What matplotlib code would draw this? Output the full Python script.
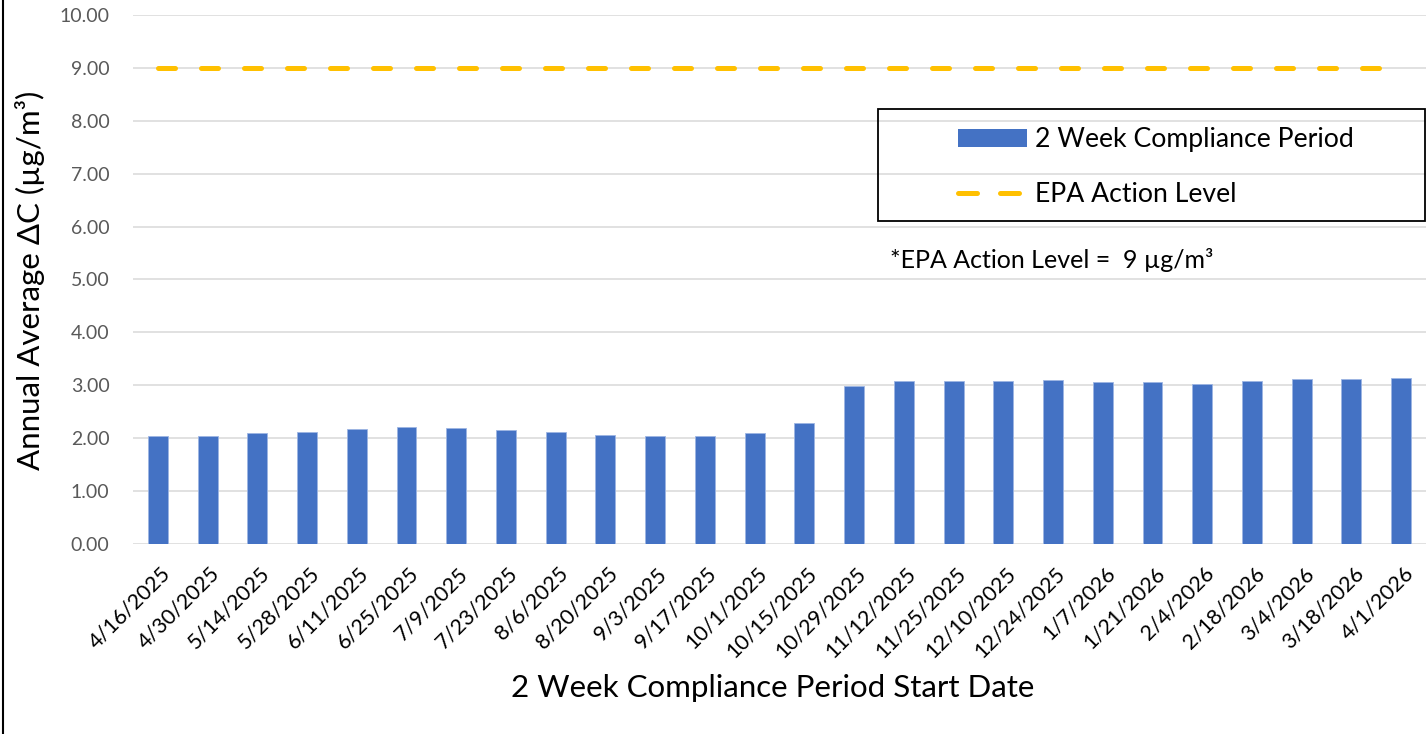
import matplotlib.pyplot as plt
import matplotlib.transforms as mtransforms
from matplotlib.patches import Patch, Rectangle
from matplotlib.lines import Line2D

# data
dates = ['4/16/2025', '4/30/2025', '5/14/2025', '5/28/2025', '6/11/2025', '6/25/2025',
         '7/9/2025', '7/23/2025', '8/6/2025', '8/20/2025', '9/3/2025', '9/17/2025',
         '10/1/2025', '10/15/2025', '10/29/2025', '11/12/2025', '11/25/2025', '12/10/2025',
         '12/24/2025', '1/7/2026', '1/21/2026', '2/4/2026', '2/18/2026', '3/4/2026',
         '3/18/2026', '4/1/2026']
delta_c = [2.05, 2.05, 2.10, 2.12, 2.17, 2.21, 2.19, 2.15, 2.11, 2.06, 2.04, 2.04, 2.09,
           2.29, 2.99, 3.09, 3.08, 3.09, 3.10, 3.06, 3.06, 3.02, 3.09, 3.11, 3.12, 3.13]
action_level = 9.0
y_ticks = [0, 1, 2, 3, 4, 5, 6, 7, 8, 9, 10]

plt.rcParams['font.family'] = ['Lato', 'DejaVu Sans']

W, H = 1427, 734
fig = plt.figure(figsize=(W / 100, H / 100), dpi=100)
ax = fig.add_axes([133 / W, 1 - 544 / H, 1293 / W, 529 / H])

x = list(range(len(dates)))
ax.bar(x, delta_c, width=0.4, color='#4472C4', edgecolor='#9DB5E3', linewidth=0.6, zorder=3)
ax.plot(x, [action_level] * len(dates), color='#FFC000', lw=3.6, dashes=(3.4, 5.2),
        dash_capstyle='round', zorder=4)

ax.set_xlim(-0.5, len(dates) - 0.5)
ax.set_ylim(0, 10)
ax.set_yticks(y_ticks, [f'{v:.2f}' for v in y_ticks])
ax.yaxis.grid(True, color='#D9D9D9', lw=1.1, zorder=0)
ax.tick_params(axis='y', length=0, pad=17, labelsize=14, labelcolor='#595959')
ax.set_xticks(x, dates, rotation=45, ha='right', rotation_mode='anchor')
ax.tick_params(axis='x', length=0, pad=14, labelsize=15.5, labelcolor='black')
shift = mtransforms.ScaledTranslation(2 / 100, 0, fig.dpi_scale_trans)
for lab in ax.get_xticklabels():
    lab.set_transform(lab.get_transform() + shift)
for s in ax.spines.values():
    s.set_visible(False)

fig.text(30 / W, 1 - 280 / H, 'Annual Average ΔC (µg/m³)', rotation=90,
         ha='center', va='center', fontsize=22.5)
fig.text(773 / W, 1 - 688 / H, '2 Week Compliance Period Start Date',
         ha='center', va='center', fontsize=22.5)

# legend box and entries
fig.add_artist(Rectangle((878 / W, 1 - 221 / H), 547 / W, 112 / H, transform=fig.transFigure,
                         fill=False, edgecolor='black', lw=1.3))
handles = [Patch(facecolor='#4472C4', edgecolor='none'),
           Line2D([0], [0], color='#FFC000', lw=3.6, dashes=(3.8, 4.6), dash_capstyle='round')]
fig.legend(handles, ['2 Week Compliance Period', 'EPA Action Level'], loc='upper left',
           bbox_to_anchor=(958 / W, 1 - 127 / H), frameon=False, fontsize=19.2,
           borderpad=0, borderaxespad=0, handlelength=2.6, handleheight=0.65,
           handletextpad=0.28, labelspacing=1.12)
fig.text(890 / W, 1 - 260 / H, '*EPA Action Level =  9 µg/m³', ha='left', va='center',
         fontsize=18)

# chart frame edge on the left
fig.add_artist(Line2D([2.5 / W, 2.5 / W], [0, 1], transform=fig.transFigure, color='black', lw=1.5))

fig.savefig('out.png', dpi=100)
